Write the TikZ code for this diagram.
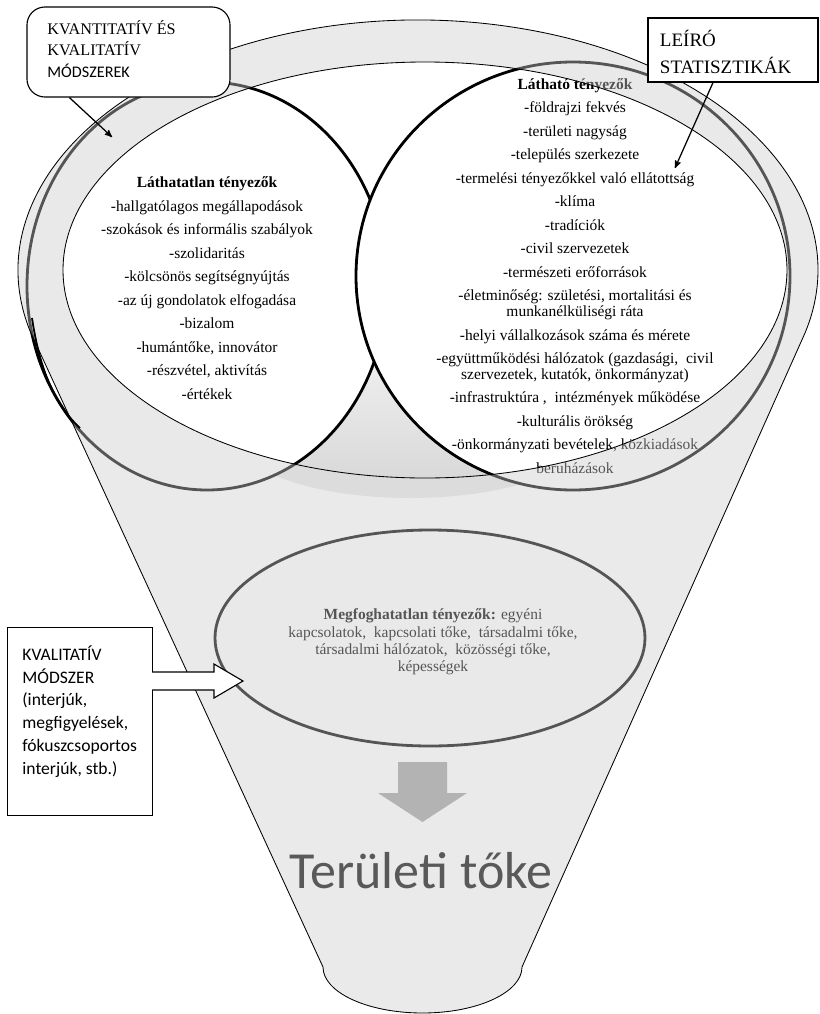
\documentclass[tikz,border=0pt]{standalone}
\usepackage{fontspec}
\setmainfont{Liberation Serif}
\newfontfamily\calibri{Carlito}
\usepackage{tikz}
\usetikzlibrary{arrows}

\definecolor{funnelgray}{gray}{0.8}
\definecolor{arrowgray}{HTML}{B3B3B3}
\definecolor{titlegray}{HTML}{595959}

\begin{document}
\begin{tikzpicture}[x=0.025cm, y=-0.025cm, >=stealth', semithick,
    venn/.style={draw=black, line width=2pt, fill=white},
    factors/.style={align=center, inner sep=0pt, font=\fontsize{11}{16.7}\selectfont},
    callout/.style={draw=black, fill=white, line width=0.8pt},
    pointer/.style={->, line width=0.9pt}]

    \tikzstyle{funnel}=[fill=funnelgray, fill opacity=0.42, draw=black, line width=0.6pt]

    \useasboundingbox (0,0) rectangle (820,1014);

    % inside of the funnel
    \fill[black!9] (410,440) ellipse [x radius=170, y radius=58];
    \shade[top color=white, bottom color=black!15, middle color=white] (425,270) ellipse [x radius=362, y radius=208];

    \draw[venn] (207,286) ellipse [x radius=180, y radius=204];
    \draw[venn] (573,276) ellipse [x radius=217, y radius=214];
    \draw[venn] (430,638) ellipse [x radius=215, y radius=108];

    \node[factors] (lathatatlan) at (207,288) {\textbf{Láthatatlan tényezők}\\
      -hallgatólagos megállapodások\\
      -szokások és informális szabályok\\
      -szolidaritás\\
      -kölcsönös segítségnyújtás\\
      -az új gondolatok elfogadása\\
      -bizalom\\
      -humántőke, innovátor\\
      -részvétel, aktivítás\\
      -értékek};
    \node[factors] (lathato) at (575,276) {\textbf{Látható tényezők}\\
      -földrajzi fekvés\\
      -területi nagyság\\
      -település szerkezete\\
      -termelési tényezőkkel való ellátottság\\
      -klíma\\
      -tradíciók\\
      -civil szervezetek\\
      -természeti erőforrások\\
      -életminőség: születési, mortalitási és\\[-5.4pt]
      munkanélküliségi ráta\\
      -helyi vállalkozások száma és mérete\\
      -együttműködési hálózatok (gazdasági,~ civil\\[-5.4pt]
      szervezetek, kutatók, önkormányzat)\\
      -infrastruktúra ,~ intézmények működése\\
      -kulturális örökség\\
      -önkormányzati bevételek, közkiadások\\
      beruházások};
    \node[factors, font=\fontsize{11}{12.3}\selectfont] (megfoghatatlan) at (433,642) {\textbf{Megfoghatatlan tényezők:} egyéni\\
      kapcsolatok,~ kapcsolati tőke,~ társadalmi tőke,\\
      társadalmi hálózatok,~ közösségi tőke,\\
      képességek};

    % the funnel
    \path[funnel, even odd rule] (31,333) -- (323,967)
      arc[start angle=180, end angle=0, x radius=99.5, y radius=46] -- (805,333)
      arc[start angle=14.6, end angle=-194.6, x radius=400, y radius=250] -- cycle
      (425,270) ellipse [x radius=362, y radius=208];
    \draw[line width=1.3pt] (32,318) .. controls (40,372) and (56,406) .. (80,428);

    % methods
    \node[callout, rounded corners=0.45cm, minimum width=5.075cm, minimum height=2.25cm] (kvantbox) at (128.5,52) {};
    \node[anchor=north west, align=left, inner sep=0pt, font=\rmfamily\fontsize{11.5}{15.2}\selectfont] (kvanttext) at (47,20) {KVANTITATÍV ÉS\\KVALITATÍV\\{\calibri MÓDSZEREK}};
    \coordinate (kvantend) at (112,137);
    \draw[pointer] ([xshift=1.075cm]kvantbox.south west) -- (kvantend);

    \node[callout, minimum width=4.25cm, minimum height=1.6cm, text width=3.65cm, align=left, font=\fontsize{13.5}{19.1}\selectfont] (leiro) at (733,50) {\vphantom{Ý}\\[-16pt]LEÍRÓ\\STATISZTIKÁK};
    \coordinate (leiroend) at (675,168);
    \draw[pointer] ([xshift=-0.5cm]leiro.south) -- (leiroend);

    \node[callout, minimum width=3.625cm, minimum height=4.7cm, anchor=north west] (kvalbox) at (7,627) {};
    \node[anchor=north west, align=left, inner sep=0pt, font=\calibri\fontsize{12.5}{16.3}\selectfont] (kvaltext) at (22,645) {KVALITATÍV\\MÓDSZER\\(interjúk,\\megfigyelések,\\fókuszcsoportos\\interjúk, stb.)};
    \draw[callout, line join=miter] (152,672) -- (214,672) -- (214,664) -- (243,681) -- (214,698) -- (214,690) -- (152,690);

    % result
    \fill[arrowgray] (398,762) -- (447,762) -- (447,793) -- (467,793) -- (422.5,822) -- (378,793) -- (398,793) -- cycle;
    \node[anchor=base, inner sep=0pt, text=titlegray, font=\calibri\fontsize{37}{40}\selectfont] (teruleti) at (421,888) {Területi tőke};

\end{tikzpicture}
\end{document}
